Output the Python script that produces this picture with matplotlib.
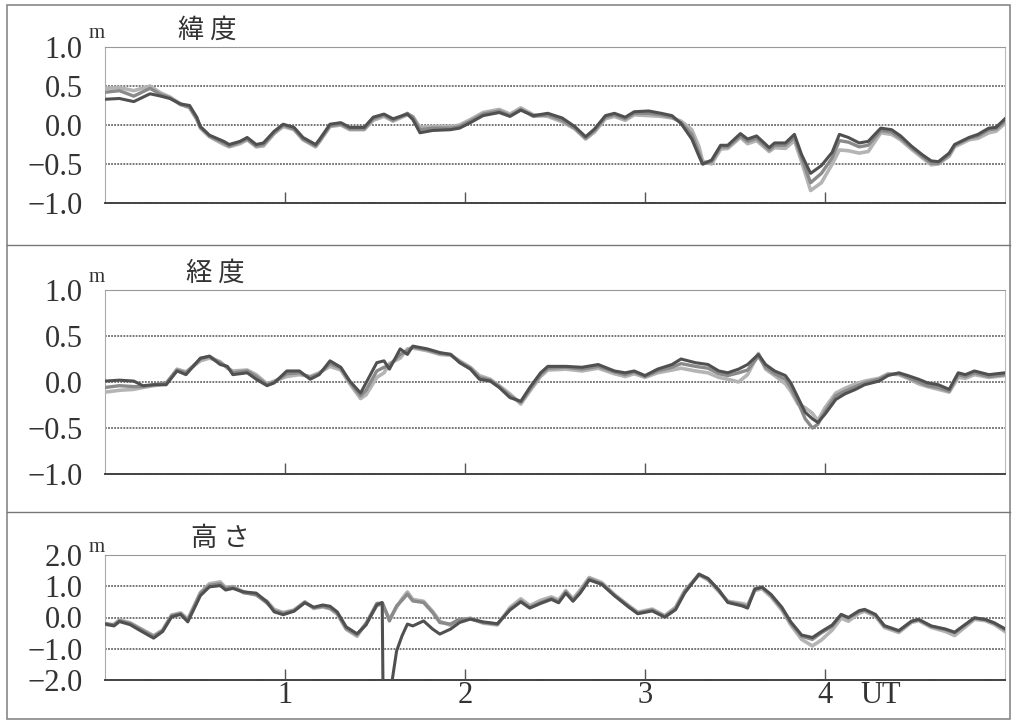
import matplotlib
matplotlib.use('Agg')
import matplotlib.pyplot as plt
from matplotlib.lines import Line2D
from matplotlib.patches import Rectangle

# ---- data (UT hours, metres) ----
lat_t = [0.00, 0.08, 0.16, 0.25, 0.31, 0.36, 0.42, 0.47, 0.51, 0.53,
         0.58, 0.66, 0.69, 0.75, 0.79, 0.84, 0.88, 0.94, 0.99, 1.05,
         1.10, 1.17, 1.19, 1.25, 1.31, 1.36, 1.44, 1.49, 1.55, 1.60,
         1.68, 1.71, 1.75, 1.82, 1.92, 1.97, 2.03, 2.10, 2.19, 2.25,
         2.31, 2.38, 2.46, 2.54, 2.61, 2.67, 2.72, 2.78, 2.83, 2.89,
         2.94, 3.02, 3.09, 3.15, 3.20, 3.26, 3.30, 3.32, 3.37, 3.42,
         3.46, 3.53, 3.57, 3.62, 3.69, 3.72, 3.78, 3.83, 3.87, 3.92,
         3.98, 4.04, 4.08, 4.13, 4.19, 4.24, 4.31, 4.37, 4.42, 4.48,
         4.54, 4.59, 4.63, 4.69, 4.72, 4.80, 4.85, 4.91, 4.95, 5.00]
lat_dark = [0.33, 0.34, 0.30, 0.40, 0.37, 0.34, 0.27, 0.25, 0.10, -0.02,
            -0.13, -0.21, -0.25, -0.21, -0.16, -0.25, -0.23, -0.08, 0.01, -0.03,
            -0.16, -0.25, -0.19, 0.01, 0.03, -0.03, -0.03, 0.10, 0.14, 0.08,
            0.14, 0.07, -0.10, -0.07, -0.06, -0.04, 0.03, 0.12, 0.16, 0.11,
            0.19, 0.12, 0.15, 0.09, -0.02, -0.15, -0.05, 0.12, 0.15, 0.10,
            0.17, 0.18, 0.15, 0.12, 0.02, -0.18, -0.40, -0.50, -0.45, -0.26,
            -0.26, -0.11, -0.18, -0.14, -0.29, -0.23, -0.23, -0.12, -0.38, -0.62,
            -0.52, -0.35, -0.12, -0.16, -0.23, -0.21, -0.04, -0.06, -0.14, -0.27,
            -0.38, -0.46, -0.47, -0.36, -0.25, -0.16, -0.12, -0.04, -0.03, 0.08]
lat_mid = [0.42, 0.44, 0.37, 0.47, 0.39, 0.35, 0.26, 0.23, 0.08, -0.03,
           -0.14, -0.23, -0.27, -0.22, -0.18, -0.27, -0.25, -0.10, 0.00, -0.05,
           -0.18, -0.27, -0.21, -0.01, 0.01, -0.05, -0.05, 0.08, 0.13, 0.06,
           0.15, 0.10, -0.06, -0.04, -0.04, -0.02, 0.05, 0.14, 0.18, 0.12,
           0.20, 0.11, 0.13, 0.06, -0.04, -0.17, -0.07, 0.10, 0.13, 0.08,
           0.15, 0.15, 0.13, 0.10, 0.03, -0.12, -0.36, -0.50, -0.47, -0.28,
           -0.28, -0.14, -0.21, -0.17, -0.32, -0.26, -0.26, -0.16, -0.42, -0.74,
           -0.62, -0.42, -0.20, -0.22, -0.28, -0.26, -0.07, -0.09, -0.17, -0.29,
           -0.40, -0.49, -0.49, -0.38, -0.26, -0.17, -0.14, -0.06, -0.05, 0.05]
lat_light = [0.47, 0.48, 0.44, 0.50, 0.41, 0.36, 0.27, 0.22, 0.07, -0.04,
             -0.15, -0.25, -0.28, -0.24, -0.19, -0.28, -0.27, -0.11, -0.02, -0.06,
             -0.19, -0.28, -0.22, -0.02, 0.00, -0.06, -0.06, 0.06, 0.11, 0.05,
             0.13, 0.11, -0.03, -0.02, -0.02, 0.00, 0.07, 0.16, 0.20, 0.14,
             0.22, 0.13, 0.11, 0.04, -0.05, -0.18, -0.09, 0.08, 0.11, 0.06,
             0.13, 0.12, 0.11, 0.09, 0.05, -0.06, -0.28, -0.46, -0.50, -0.31,
             -0.30, -0.16, -0.24, -0.20, -0.34, -0.29, -0.30, -0.20, -0.47, -0.84,
             -0.74, -0.50, -0.32, -0.33, -0.36, -0.34, -0.10, -0.12, -0.19, -0.31,
             -0.42, -0.51, -0.50, -0.40, -0.28, -0.19, -0.17, -0.10, -0.08, 0.02]

lon_t = [0.00, 0.08, 0.16, 0.21, 0.27, 0.34, 0.40, 0.45, 0.53, 0.58,
         0.64, 0.68, 0.71, 0.79, 0.84, 0.90, 0.94, 1.01, 1.08, 1.14,
         1.19, 1.25, 1.31, 1.36, 1.42, 1.45, 1.51, 1.55, 1.58, 1.64,
         1.68, 1.71, 1.79, 1.86, 1.92, 1.97, 2.03, 2.08, 2.14, 2.19,
         2.25, 2.31, 2.36, 2.42,
         2.46, 2.56, 2.65, 2.74, 2.83, 2.89, 2.94, 3.00, 3.07, 3.15,
         3.20, 3.28, 3.35, 3.41, 3.46, 3.52, 3.57, 3.63, 3.67, 3.72,
         3.78, 3.81, 3.85, 3.89, 3.93, 3.96, 4.00, 4.06, 4.11, 4.17,
         4.22, 4.30, 4.35, 4.41, 4.46, 4.52, 4.57, 4.63, 4.69, 4.74,
         4.78, 4.83, 4.91, 5.00]
lon_dark = [0.01, 0.02, 0.01, -0.04, -0.03, -0.03, 0.12, 0.08, 0.26, 0.28,
            0.19, 0.17, 0.08, 0.10, 0.03, -0.04, -0.01, 0.12, 0.12, 0.03,
            0.08, 0.23, 0.16, 0.01, -0.12, -0.01, 0.21, 0.23, 0.14, 0.36,
            0.30, 0.39, 0.36, 0.32, 0.30, 0.21, 0.14, 0.03, 0.01, -0.06,
            -0.17, -0.21, -0.06, 0.10,
            0.17, 0.17, 0.16, 0.19, 0.12, 0.10, 0.12, 0.07, 0.14, 0.19,
            0.25, 0.21, 0.19, 0.12, 0.10, 0.14, 0.19, 0.30, 0.19, 0.12,
            0.07, -0.01, -0.17, -0.33, -0.40, -0.44, -0.35, -0.19, -0.13, -0.08,
            -0.03, 0.01, 0.07, 0.10, 0.07, 0.03, -0.01, -0.03, -0.08, 0.10,
            0.08, 0.12, 0.08, 0.10]
lon_mid = [-0.06, -0.04, -0.05, -0.05, -0.03, -0.01, 0.13, 0.10, 0.25, 0.28,
           0.21, 0.16, 0.10, 0.12, 0.06, -0.03, 0.00, 0.09, 0.10, 0.05,
           0.09, 0.20, 0.15, 0.00, -0.15, -0.09, 0.12, 0.16, 0.18, 0.30,
           0.34, 0.38, 0.35, 0.31, 0.30, 0.22, 0.15, 0.05, 0.02, -0.05,
           -0.15, -0.22, -0.08, 0.08,
           0.15, 0.16, 0.14, 0.17, 0.11, 0.08, 0.11, 0.06, 0.12, 0.16,
           0.20, 0.17, 0.15, 0.09, 0.07, 0.10, 0.13, 0.28, 0.16, 0.09,
           0.03, -0.06, -0.22, -0.40, -0.50, -0.46, -0.32, -0.15, -0.10, -0.05,
           -0.01, 0.03, 0.08, 0.09, 0.05, 0.00, -0.04, -0.06, -0.10, 0.08,
           0.06, 0.10, 0.06, 0.08]
lon_light = [-0.11, -0.09, -0.08, -0.06, -0.04, -0.02, 0.14, 0.11, 0.23, 0.26,
             0.22, 0.15, 0.12, 0.13, 0.08, -0.02, 0.01, 0.06, 0.08, 0.06,
             0.10, 0.17, 0.13, -0.02, -0.18, -0.14, 0.05, 0.10, 0.20, 0.26,
             0.36, 0.37, 0.34, 0.30, 0.29, 0.23, 0.16, 0.07, 0.03, -0.04,
             -0.13, -0.24, -0.10, 0.06,
             0.13, 0.14, 0.12, 0.15, 0.09, 0.06, 0.09, 0.05, 0.10, 0.13,
             0.15, 0.12, 0.10, 0.05, 0.03, 0.00, 0.08, 0.31, 0.14, 0.07,
             -0.02, -0.10, -0.24, -0.28, -0.34, -0.42, -0.28, -0.12, -0.07, -0.02,
             0.01, 0.04, 0.09, 0.08, 0.04, -0.02, -0.05, -0.08, -0.11, 0.05,
             0.04, 0.08, 0.05, 0.07]

hgt_t = [0.00, 0.05, 0.08, 0.14, 0.19, 0.27, 0.32, 0.37, 0.42, 0.46,
         0.53, 0.58, 0.64, 0.67, 0.71, 0.77, 0.84, 0.90, 0.94, 0.99,
         1.05, 1.11, 1.16, 1.21, 1.25, 1.29, 1.34, 1.40, 1.45, 1.51, 1.54,
         1.545, 1.58, 1.62, 1.65, 1.68, 1.71, 1.77, 1.82, 1.86, 1.92,
         1.97, 2.03, 2.10, 2.18, 2.25, 2.31, 2.36, 2.42,
         2.48, 2.52, 2.56, 2.60, 2.64, 2.69, 2.76, 2.83, 2.91, 2.96,
         3.04, 3.11, 3.17, 3.22, 3.30, 3.35, 3.41, 3.46, 3.54, 3.57,
         3.61, 3.65, 3.70, 3.76, 3.81, 3.87, 3.93, 3.98, 4.04, 4.09,
         4.13, 4.19, 4.22, 4.28, 4.33, 4.41, 4.48, 4.52, 4.59, 4.67,
         4.72, 4.78, 4.83, 4.89, 4.94, 5.00]
hgt_dark = [-0.21, -0.27, -0.13, -0.23, -0.40, -0.66, -0.45, 0.02, 0.10, -0.14,
            0.70, 0.98, 1.02, 0.88, 0.93, 0.82, 0.78, 0.50, 0.18, 0.09,
            0.20, 0.47, 0.33, 0.40, 0.36, 0.18, -0.30, -0.52, -0.24, 0.40, 0.48,
            -2.60, -2.60, -1.07, -0.59, -0.21, -0.27, -0.11, -0.37, -0.53, -0.37,
            -0.16, -0.05, -0.14, -0.20, 0.24, 0.50, 0.30, 0.45,
            0.58, 0.47, 0.78, 0.52, 0.78, 1.20, 1.06, 0.70, 0.33, 0.12,
            0.21, 0.01, 0.25, 0.78, 1.38, 1.25, 0.88, 0.48, 0.37, 0.30,
            0.90, 0.97, 0.74, 0.33, -0.14, -0.56, -0.64, -0.45, -0.24, 0.10,
            0.00, 0.22, 0.26, 0.10, -0.26, -0.42, -0.12, -0.06, -0.27, -0.37,
            -0.47, -0.22, -0.01, -0.06, -0.17, -0.36]
hgt_mid = [-0.19, -0.24, -0.10, -0.19, -0.35, -0.61, -0.42, 0.06, 0.12, -0.09,
           0.77, 1.03, 1.08, 0.93, 0.97, 0.79, 0.73, 0.46, 0.22, 0.13,
           0.22, 0.49, 0.31, 0.36, 0.30, 0.14, -0.35, -0.56, -0.20, 0.45, 0.46,
           0.42, -0.11, 0.37, 0.55, 0.75, 0.53, 0.48, 0.16, -0.16, -0.21,
           -0.05, -0.05, -0.16, -0.21, 0.27, 0.53, 0.32, 0.48,
           0.61, 0.50, 0.82, 0.55, 0.82, 1.24, 1.08, 0.71, 0.35, 0.14,
           0.24, 0.03, 0.29, 0.82, 1.39, 1.24, 0.87, 0.50, 0.40, 0.35,
           0.92, 0.97, 0.71, 0.29, -0.18, -0.60, -0.70, -0.49, -0.28, 0.08,
           -0.02, 0.19, 0.24, 0.08, -0.28, -0.44, -0.13, -0.07, -0.28, -0.39,
           -0.49, -0.23, -0.02, -0.07, -0.18, -0.39]
hgt_light = [-0.23, -0.22, -0.08, -0.17, -0.33, -0.58, -0.40, 0.08, 0.15, -0.05,
             0.80, 1.08, 1.14, 0.96, 0.99, 0.82, 0.72, 0.52, 0.26, 0.16,
             0.24, 0.50, 0.29, 0.34, 0.28, 0.11, -0.38, -0.60, -0.18, 0.38, 0.42,
             0.38, -0.05, 0.33, 0.60, 0.82, 0.58, 0.52, 0.20, -0.12, -0.25,
             -0.08, -0.02, -0.18, -0.24, 0.32, 0.60, 0.38, 0.55,
             0.66, 0.56, 0.86, 0.60, 0.88, 1.28, 1.12, 0.74, 0.38, 0.17,
             0.27, 0.06, 0.33, 0.86, 1.36, 1.20, 0.83, 0.52, 0.45, 0.40,
             0.86, 0.92, 0.66, 0.24, -0.24, -0.70, -0.91, -0.72, -0.40, -0.02,
             -0.12, 0.14, 0.20, 0.04, -0.32, -0.48, -0.16, -0.10, -0.32, -0.45,
             -0.58, -0.30, -0.06, -0.10, -0.22, -0.45]

titles = ['緯 度', '経 度', '高 さ']
lat_ticks = [1.0, 0.5, 0.0, -0.5, -1.0]
hgt_ticks = [2.0, 1.0, 0.0, -1.0, -2.0]
ut_ticks = [1, 2, 3, 4]

W, H = 1014, 725
serif = 'Liberation Serif'
cjk = ['Noto Sans CJK JP', 'DejaVu Sans']
txt = '#333333'

fig = plt.figure(figsize=(W / 100, H / 100), dpi=100)
fig.patch.set_facecolor('white')


def fx(x):
    return x / W


def fy(y):
    return 1 - y / H


ax1 = fig.add_axes([fx(105), fy(203), 900 / W, 156 / H])
ax2 = fig.add_axes([fx(105), fy(474), 900 / W, 184 / H])
ax3 = fig.add_axes([fx(105), fy(680), 900 / W, 125 / H])


def fmt(v):
    return f'{v:.1f}'.replace('-', '\u2212')


def style(ax, ticks):
    ax.set_xlim(0, 5)
    ax.set_ylim(ticks[-1], ticks[0])
    ax.set_yticks(ticks)
    ax.set_yticklabels([fmt(v) for v in ticks], fontfamily=serif, fontsize=22, color=txt)
    ax.tick_params(axis='y', length=0, pad=16)
    ax.set_xticks(ut_ticks)
    ax.tick_params(axis='x', direction='in', length=8, width=1, color='#555', pad=1)
    for v in ticks[1:-1]:
        ax.axhline(v, color='#6a6a6a', lw=1.3, ls=(0, (1, 0.7)), zorder=1)
    ax.spines['top'].set_color('#999999')
    ax.spines['top'].set_linestyle((0, (1, 1)))
    ax.spines['left'].set_color('#aaaaaa')
    ax.spines['right'].set_color('#bbbbbb')
    ax.spines['right'].set_linestyle((0, (1, 1)))
    ax.spines['bottom'].set_color('#444444')
    ax.spines['bottom'].set_linewidth(1.4)
    ax.spines['bottom'].set_linestyle((0, (1, 0.6)))


def draw(ax, t, dark, mid, light):
    ax.plot(t, light, color='#b4b4b4', lw=2.6, zorder=3)
    ax.plot(t, mid, color='#8a8a8a', lw=2.4, zorder=4)
    ax.plot(t, dark, color='#505050', lw=2.2, zorder=5)


style(ax1, lat_ticks)
style(ax2, lat_ticks)
style(ax3, hgt_ticks)
draw(ax1, lat_t, lat_dark, lat_mid, lat_light)
draw(ax2, lon_t, lon_dark, lon_mid, lon_light)
draw(ax3, hgt_t, hgt_dark, hgt_mid, hgt_light)

ax1.set_xticklabels([])
ax2.set_xticklabels([])
ax3.set_xticklabels([str(v) for v in ut_ticks], fontfamily=serif, fontsize=22, color=txt)
ax3.annotate('UT', xy=(4.31, 0), xycoords=('data', 'axes fraction'),
             xytext=(0, -1), textcoords='offset points', ha='center', va='top',
             fontfamily=serif, fontsize=22, color=txt)

# panel titles and unit marks
for title, (tx, ty), my in zip(titles, [(207, 30), (215, 273), (220, 539)], [33, 278, 548]):
    fig.text(fx(tx), fy(ty), title, ha='center', va='center', family=cjk,
             fontsize=19, color=txt)
    fig.text(fx(97), fy(my), 'm', ha='center', va='center', family=serif,
             fontsize=15, color=txt)

# page frame and panel separators
fig.add_artist(Rectangle((fx(7), fy(719)), 1003 / W, 714 / H, fill=False,
                         ec='#888888', lw=1.2, transform=fig.transFigure))
for yy in [245, 512]:
    fig.add_artist(Line2D([fx(7), fx(1010)], [fy(yy), fy(yy)], color='#777777',
                          lw=1.0, transform=fig.transFigure))

fig.savefig('out.png', dpi=100)
